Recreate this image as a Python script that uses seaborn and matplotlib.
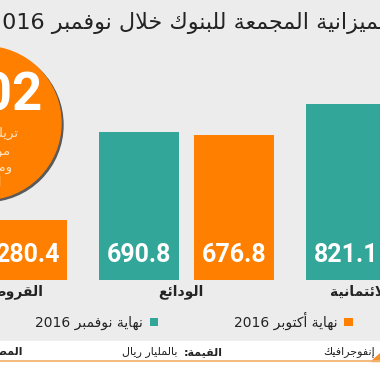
import matplotlib
matplotlib.use('Agg')
import matplotlib.pyplot as plt
from matplotlib.patches import Ellipse, Rectangle, Polygon
from matplotlib.lines import Line2D
import numpy as np
import pandas as pd
import seaborn as sns

# data (categories left to right as drawn, the chart reads right to left)
categories = ['القروض', 'الودائع', 'التسهيلات الائتمانية']
periods = ['نهاية نوفمبر 2016', 'نهاية أكتوبر 2016']
nov_values = [283.5, 690.8, 821.1]
oct_values = [280.4, 676.8, 812.6]

title = 'الميزانية المجمعة للبنوك خلال نوفمبر 2016'
circle_number = '1.202'
circle_lines = ['تريليون ريال', 'موجودات', 'ومطلوبات', 'البنوك']
footer_right = 'إنفوجرافيك'
footer_unit_bold = 'القيمة:'
footer_unit = 'بالمليار ريال'
footer_left = 'المصدر:'

TEAL = '#33a69a'
ORANGE = '#ff8000'
BG = '#ececec'
DARK = '#232323'

# --- minimal arabic shaping (presentation forms + visual order) ---
RIGHT = {'آ': 0xFE81, 'أ': 0xFE83, 'ؤ': 0xFE85, 'إ': 0xFE87, 'ا': 0xFE8D, 'ة': 0xFE93,
         'د': 0xFEA9, 'ذ': 0xFEAB, 'ر': 0xFEAD, 'ز': 0xFEAF, 'و': 0xFEED, 'ى': 0xFEEF}
DUAL = {'ئ': 0xFE89, 'ب': 0xFE8F, 'ت': 0xFE95, 'ث': 0xFE99, 'ج': 0xFE9D, 'ح': 0xFEA1,
        'خ': 0xFEA5, 'س': 0xFEB1, 'ش': 0xFEB5, 'ص': 0xFEB9, 'ض': 0xFEBD, 'ط': 0xFEC1,
        'ظ': 0xFEC5, 'ع': 0xFEC9, 'غ': 0xFECD, 'ف': 0xFED1, 'ق': 0xFED5, 'ك': 0xFED9,
        'ل': 0xFEDD, 'م': 0xFEE1, 'ن': 0xFEE5, 'ه': 0xFEE9, 'ي': 0xFEF1}
LAM_ALEF = {'آ': 0xFEF5, 'أ': 0xFEF7, 'إ': 0xFEF9, 'ا': 0xFEFB}


def shape(word):
    chars = []
    i = 0
    while i < len(word):
        c = word[i]
        if c == 'ل' and i + 1 < len(word) and word[i + 1] in LAM_ALEF:
            chars.append(('LA', word[i + 1]))
            i += 2
        else:
            chars.append((c, None))
            i += 1
    joining = lambda ch: ch in DUAL or ch in RIGHT or ch == 'LA'
    out = []
    for k, (c, a) in enumerate(chars):
        prev = chars[k - 1][0] if k > 0 else None
        nxt = chars[k + 1][0] if k + 1 < len(chars) else None
        jp = prev in DUAL and joining(c)
        if c == 'LA':
            out.append(chr(LAM_ALEF[a] + jp))
        elif c in DUAL:
            jn = joining(nxt) if nxt else False
            out.append(chr(DUAL[c] + [[0, 2], [1, 3]][jp][jn]))
        elif c in RIGHT:
            out.append(chr(RIGHT[c] + jp))
        else:
            out.append(c)
    return ''.join(out)


def ar(text):
    vis = []
    for w in reversed(text.split(' ')):
        if any('\u0600' <= ch <= '\u06ff' for ch in w):
            vis.append(shape(w)[::-1])
        else:
            vis.append(w)
    return ' '.join(vis)


W, H = 380, 372
px = lambda x: x / W
py = lambda y: 1 - y / H

sns.set_style('white')
plt.rcParams['font.family'] = ['DejaVu Sans']

fig = plt.figure(figsize=(3.8, 3.72), dpi=100, facecolor=BG)
ax = fig.add_axes([0, 0, 1, 1])
ax.set_facecolor('none')

df = pd.DataFrame({
    'category': categories * 2,
    'period': [periods[0]] * 3 + [periods[1]] * 3,
    'value': nov_values + oct_values,
})
sns.barplot(df, x='category', y='value', hue='period', order=categories, hue_order=periods,
            palette=[TEAL, ORANGE], saturation=1, width=0.918, gap=0.158, errorbar=None,
            linewidth=0, ax=ax)

unit_px = 207.0                 # one category step in pixels
x0 = 0.099
upp = 821.1 / 176.0             # value units per pixel
ax.set_xlim(x0, x0 + W / unit_px)
ax.set_ylim(-92 * upp, 280 * upp)
ax.set_axis_off()

# values inside the bars
for cont, vals in zip(ax.containers, [nov_values, oct_values]):
    for bar, v in zip(cont, vals):
        ax.text(bar.get_x() + bar.get_width() / 2, 25 * upp, f'{v:.1f}', ha='center', va='center',
                color='white', fontsize=18, fontweight='bold', family=['Roboto', 'DejaVu Sans'], zorder=5)

# category labels
label_x = [0.307, 0.971, 1.693]
label_ha = ['right', 'center', 'left']
for cat, lx, ha in zip(categories, label_x, label_ha):
    ax.text(lx, -12 * upp, ar(cat), ha=ha, va='center', fontsize=10, fontweight='bold', color=DARK)

# legend (rtl: marker after text)
handles, labels = ax.get_legend_handles_labels()
ax.legend(handles, [ar(l) for l in labels], ncol=2, markerfirst=False, frameon=False,
          loc='center', bbox_to_anchor=(px(194), py(321)), bbox_transform=fig.transFigure,
          handlelength=0.6, handleheight=0.6, handletextpad=0.45, columnspacing=5.5,
          fontsize=10, labelcolor=DARK)

# title
fig.text(px(190), py(23), ar(title), ha='center', va='center', fontsize=16, color=DARK)

# big circle with shadow
r = 76.6
cx, cy = -15.6, 123
fig.add_artist(Ellipse((px(cx + 2), py(cy + 2)), 2 * r / W, 2 * r / H, transform=fig.transFigure,
                       color='#5a5a5a', zorder=1))
fig.add_artist(Ellipse((px(cx), py(cy)), 2 * r / W, 2 * r / H, transform=fig.transFigure,
                       color=ORANGE, zorder=2))
fig.text(px(43), py(96), circle_number, ha='right', va='center', fontsize=38, fontweight='bold',
         color='white', family=['Roboto', 'DejaVu Sans'], zorder=3)
for ln, ly in zip(circle_lines, [133, 151, 167, 182]):
    fig.text(px(cx), py(ly), ar(ln), ha='center', va='center', fontsize=9.5, color='#fbe3c4', zorder=3)

# footer
fig.add_artist(Rectangle((0, 0), 1, 31 / H, transform=fig.transFigure, color='white', zorder=0))
fig.add_artist(Line2D([0, 1], [py(361), py(361)], transform=fig.transFigure, color='#f2b472', lw=1.3))
fig.add_artist(Polygon([(px(371), py(361)), (px(380), py(361)), (px(380), py(353))], closed=True,
                       transform=fig.transFigure, color='#f5902a'))
fig.text(px(375), py(352), ar(footer_right), ha='right', va='center', fontsize=8, color=DARK)
fig.text(px(223), py(352), ar(footer_unit_bold), ha='right', va='center', fontsize=8,
         fontweight='bold', color=DARK)
fig.text(px(177), py(352), ar(footer_unit), ha='right', va='center', fontsize=8, color=DARK)
fig.text(px(23), py(352), ar(footer_left), ha='right', va='center', fontsize=8, fontweight='bold',
         color=DARK)

fig.savefig('out.png', dpi=100, facecolor=BG)
